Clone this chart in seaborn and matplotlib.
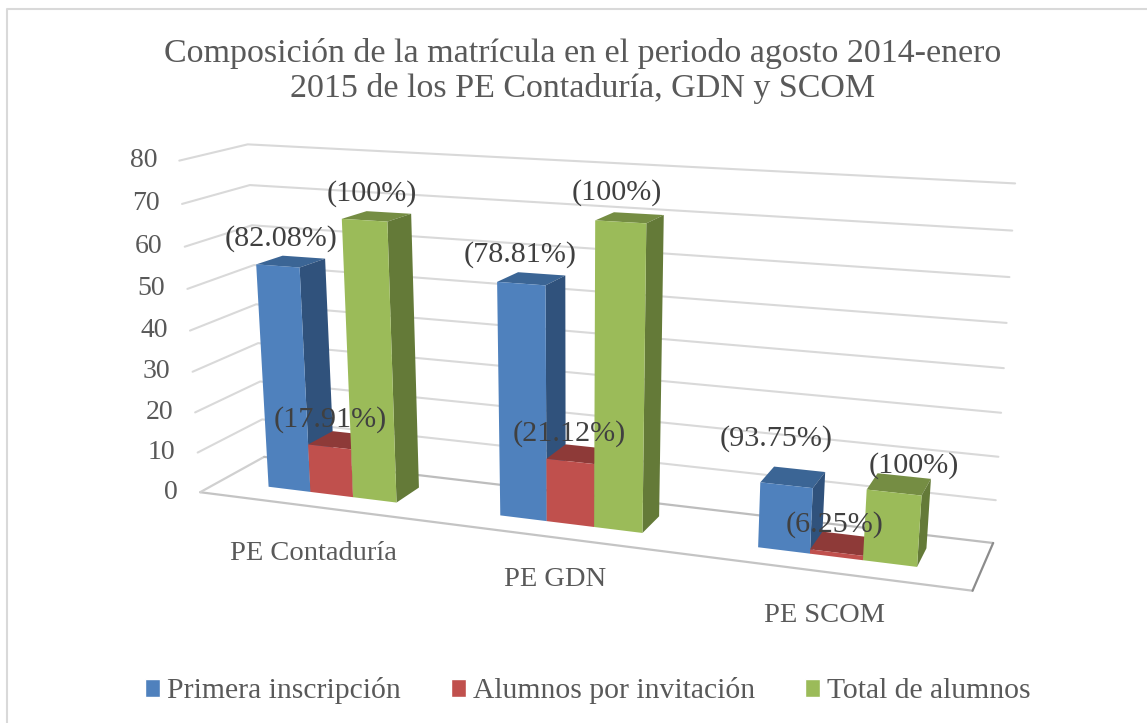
import matplotlib
matplotlib.use('Agg')
import matplotlib.pyplot as plt
from matplotlib.lines import Line2D
from matplotlib.patches import Polygon
from matplotlib.transforms import IdentityTransform, Transform
import numpy as np
import pandas as pd
import seaborn as sns

programas = ['PE Contaduría', 'PE GDN', 'PE SCOM']
primera = [55, 55, 15]
invitacion = [12, 15, 1]
total = [67, 70, 16]
series = ['Primera inscripción', 'Alumnos por invitación', 'Total de alumnos']
etiquetas = [['(82.08%)', '(78.81%)', '(93.75%)'],
             ['(17.91%)', '(21.12%)', '(6.25%)'],
             ['(100%)', '(100%)', '(100%)']]
ticks = [0, 10, 20, 30, 40, 50, 60, 70, 80]
titulo = 'Composición de la matrícula en el periodo agosto 2014-enero\n2015 de los PE Contaduría, GDN y SCOM'

W, H = 1147, 723
ANCHO = 0.565
G = 0.75
L, R = -0.5, 2.5
a = ANCHO / 2
B = 1 + G

colores = ['#4F81BD', '#C0504D', '#9BBB59']
lados = ['#30527C', '#7C2F2D', '#647A38']
techos = ['#3B6595', '#8E3A38', '#758D43']
GRIS = '#595959'
OSCURO = '#404040'

calib_barras = [
    (-a, 0, 0, 267, 486), (a, 0, 0, 398, 503), (a, 67, 0, 390, 223), (-a, 55, 0, 256, 265),
    (1 - a, 0, 0, 499, 515), (1 + a, 0, 0, 645, 533), (1 + a, 70, 0, 647, 223), (1 - a, 55, 0, 496, 279),
    (2 - a, 0, 0, 756, 547), (2 + a, 0, 0, 918, 567), (2 + a, 16, 0, 922, 497), (2 - a, 15, 0, 758, 483),
    (a, 67, 1, 412, 215), (1 + a, 70, 1, 663, 213), (2 + a, 16, 1, 931, 481),
    (a, 0, 1, 420, 487), (1 + a, 0, 1, 661, 517), (2 + a, 0, 1, 927, 545),
    (-a, 55, 1, 281, 256), (2 - a, 15, 1, 772, 468),
]
calib_pared = [
    (L, 80, B, 248, 144), (L, 70, B, 250, 185), (L, 60, B, 252, 225), (L, 0, B, 264, 457),
    (R, 80, B, 1015, 183), (R, 20, B, 998, 458), (R, 10, B, 996, 500), (R, 0, B, 993, 543),
    (L, 80, -G, 179, 161), (L, 70, -G, 182, 204), (L, 60, -G, 185, 247), (L, 50, -G, 187, 289),
    (L, 20, -G, 195, 413), (L, 10, -G, 198, 452), (L, 0, -G, 200, 492), (R, 0, -G, 973, 590),
]


def camara(puntos):
    filas = []
    for x, v, d, u, w in puntos:
        p = [x, v / 80, d, 1]
        u, w = u / 1000, w / 1000
        filas.append(p + [0, 0, 0, 0] + [-u * c for c in p])
        filas.append([0, 0, 0, 0] + p + [-w * c for c in p])
    return np.linalg.svd(np.array(filas))[2][-1].reshape(3, 4)


P_barras = camara(calib_barras)
P_pared = camara(calib_pared)


def proyecta(P, x, v, d):
    x, v, d = np.broadcast_arrays(np.asarray(x, float), np.asarray(v, float), np.asarray(d, float))
    q = np.stack([x, v / 80, d, np.ones_like(x)], axis=-1) @ P.T
    return np.stack([q[..., 0] / q[..., 2] * 1000, H - q[..., 1] / q[..., 2] * 1000], axis=-1)


class Camara(Transform):
    input_dims = 2
    output_dims = 2

    def __init__(self, prof):
        super().__init__()
        self.prof = prof

    def transform_non_affine(self, values):
        values = np.asarray(values)
        return proyecta(P_barras, values[:, 0], values[:, 1], self.prof)


df = pd.DataFrame({
    'programa': programas * 3,
    'serie': np.repeat(series, 3),
    'alumnos': primera + invitacion + total,
})

sns.set_theme(style='white')
plt.rcParams['font.family'] = ['Liberation Serif', 'DejaVu Serif']

fig = plt.figure(figsize=(W / 100, H / 100), dpi=100, facecolor='white')
ax = fig.add_axes([0, 0, 1, 1])
sns.barplot(data=df, x='programa', y='alumnos', hue='serie', palette=colores,
            width=ANCHO, gap=0, saturation=1, ax=ax)
handles, labels = ax.get_legend_handles_labels()
ax.get_legend().remove()
ax.set_axis_off()
pix = IdentityTransform()

# marco exterior
fig.add_artist(Line2D([7, 7, W], [0, H - 9, H - 9], transform=pix, color='#D9D9D9', lw=1.5))

# suelo y rejilla
suelo = proyecta(P_pared, [L, R, R, L], 0, [-G, -G, B, B])
ax.add_patch(Polygon(suelo, closed=True, fc='white', ec='none', transform=pix, zorder=1, clip_on=False))
for i, j, c in [(0, 1, '#C4C4C4'), (3, 0, '#D0D0D0'), (2, 3, '#BDBDBD'), (1, 2, '#8C8C8C')]:
    ax.plot(suelo[[i, j], 0], suelo[[i, j], 1], color=c, lw=1.6, transform=pix, zorder=1.5, clip_on=False)
for t in ticks[1:]:
    linea = proyecta(P_pared, [L, L, R], t, [-G, B, B])
    ax.plot(linea[:, 0], linea[:, 1], color='#D9D9D9', lw=1.5, transform=pix, zorder=1.2, clip_on=False)

# caras de las barras
for s, contenedor in enumerate(ax.containers):
    for bar in contenedor:
        x0, ancho, h = bar.get_x(), bar.get_width(), bar.get_height()
        x1 = x0 + ancho
        z = 3 + x0 * 3
        techo = proyecta(P_barras, [x0, x1, x1, x0], h, [0, 0, 1, 1])
        lado = proyecta(P_barras, x1, [0, h, h, 0], [0, 0, 1, 1])
        ax.add_patch(Polygon(techo, closed=True, fc=techos[s], ec='none', transform=pix, zorder=z, clip_on=False))
        ax.add_patch(Polygon(lado, closed=True, fc=lados[s], ec='none', transform=pix, zorder=z, clip_on=False))
        bar.set_transform(Camara(0))
        bar.set_clip_on(False)
        bar.set_edgecolor('none')
        bar.set_zorder(z + 0.1)

# textos
for t in ticks:
    px = proyecta(P_pared, L, t, -G)
    ax.text(px[0] - 22, px[1], str(t), transform=pix, ha='right', va='center',
            fontsize=20, color=GRIS, zorder=20)

pos_cat = [(313, 554), (555, 580), (824, 616)]
for nombre, (u, w) in zip(programas, pos_cat):
    ax.text(u, H - w, nombre, transform=pix, ha='center', va='center', fontsize=20.5, color=GRIS, zorder=20)

pos_etq = [[(281, 239), (520, 255), (776, 439)],
           [(330, 420), (569, 434), (835, 525)],
           [(372, 194), (617, 193), (914, 466)]]
for fila, pos in zip(etiquetas, pos_etq):
    for txt, (u, w) in zip(fila, pos):
        ax.text(u, H - w, txt, transform=pix, ha='center', va='center', fontsize=21.7, color=OSCURO, zorder=20)

fig.text(583, H - 71, titulo, transform=pix, ha='center', va='center', fontsize=24.5,
         color=GRIS, linespacing=1.2)

ax.legend(handles, labels, ncol=3, loc='center', bbox_to_anchor=(588, H - 691), bbox_transform=pix,
          frameon=False, fontsize=21.3, labelcolor=GRIS, handlelength=0.51, handleheight=0.51,
          handletextpad=0.24, columnspacing=1.69, borderpad=0)

fig.savefig('out.png', dpi=100)
